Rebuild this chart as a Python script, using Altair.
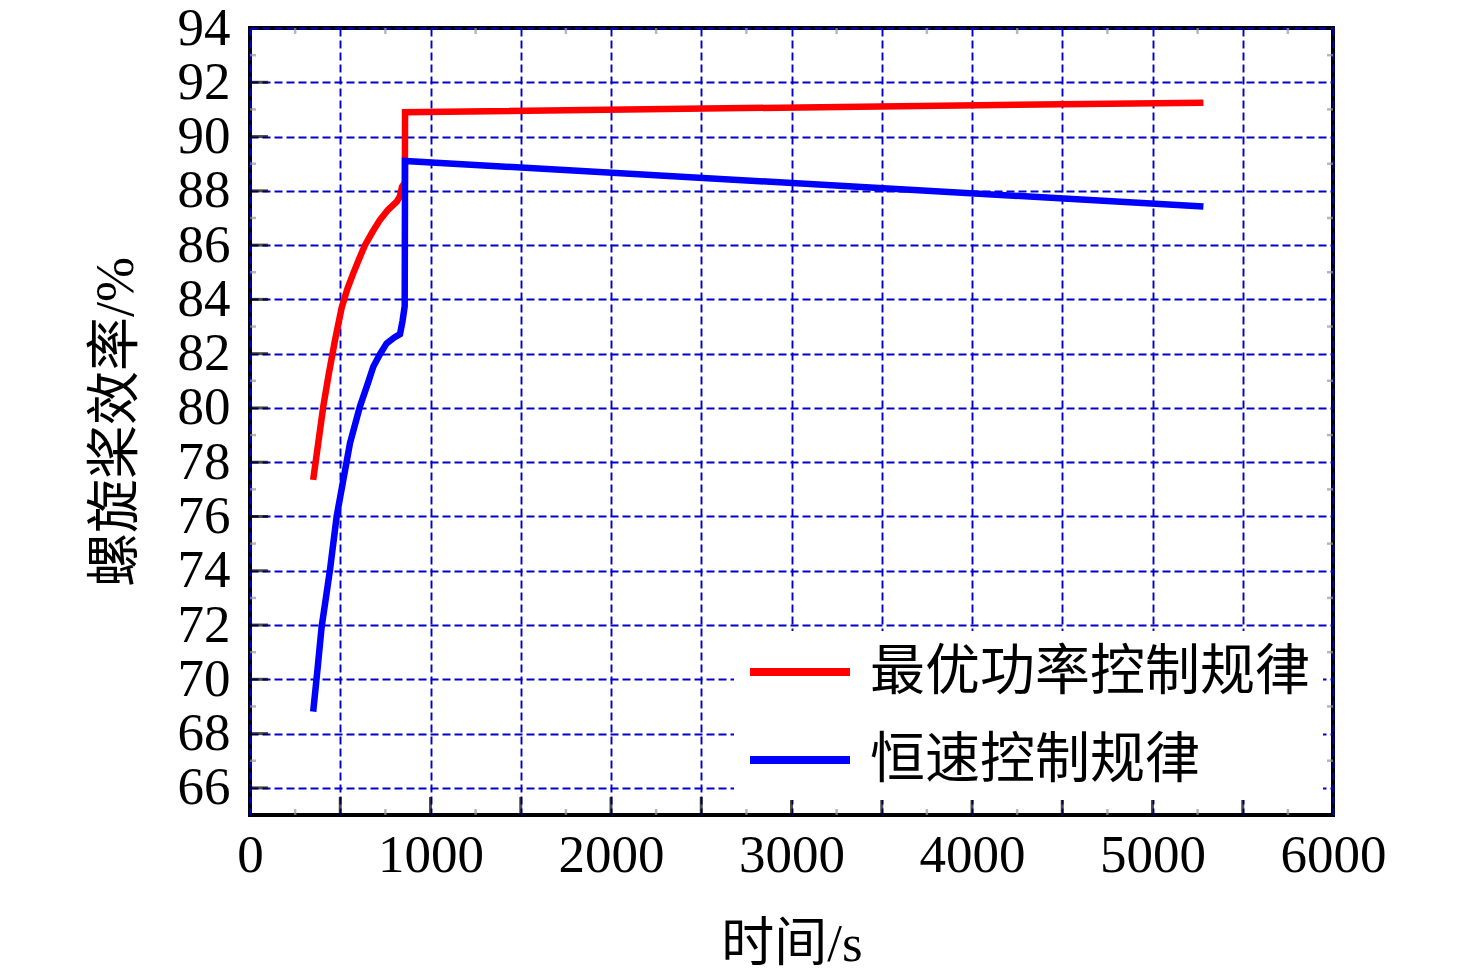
import altair as alt
import pandas as pd

# ---- data ----
red_name = "最优功率控制规律"
blue_name = "恒速控制规律"

red_t = [350, 380, 406, 435, 471, 508, 540, 572, 605, 637, 680, 720, 765, 813, 831, 842, 858, 859, 5282]
red_y = [77.35, 78.8, 80.05, 81.2, 82.5, 83.7, 84.4, 84.96, 85.5, 86.0, 86.5, 86.93, 87.3, 87.6, 87.8, 88.15, 88.3, 90.9, 91.25]

blue_t = [350, 373, 397, 420, 443, 480, 517, 554, 609, 650, 683, 720, 757, 800, 831, 845, 857, 859, 5282]
blue_y = [68.81, 70.3, 71.94, 72.98, 74.03, 76.0, 77.35, 78.7, 80.05, 80.85, 81.52, 81.98, 82.38, 82.6, 82.72, 83.2, 83.75, 89.1, 87.42]

x_grid = [0, 500, 1000, 1500, 2000, 2500, 3000, 3500, 4000, 4500, 5000, 5500, 6000]
y_grid = [66, 68, 70, 72, 74, 76, 78, 80, 82, 84, 86, 88, 90, 92, 94]
x_major_ticks = [500, 1000, 1500, 2000, 2500, 3000, 3500, 4000, 4500, 5000, 5500]
x_minor_ticks = [250, 750, 1250, 1750, 2250, 2750, 3250, 3750, 4250, 4750, 5250, 5750]
y_major_ticks = [66, 68, 70, 72, 74, 76, 78, 80, 82, 84, 86, 88, 90, 92]
y_minor_ticks = [67, 69, 71, 73, 75, 77, 79, 81, 83, 85, 87, 89, 91, 93]

W, H = 1083, 787
FONT = "Liberation Serif, Noto Sans CJK SC"

red_df = pd.DataFrame({"t": red_t, "y": red_y, "s": red_name, "i": range(len(red_t))})
blue_df = pd.DataFrame({"t": blue_t, "y": blue_y, "s": blue_name, "i": range(len(blue_t))})

xscale = alt.Scale(domain=[0, 6000], nice=False, zero=False)
yscale = alt.Scale(domain=[65, 94], nice=False, zero=False)
cscale = alt.Scale(domain=[red_name, blue_name], range=["#FF0000", "#0000FF"])

xaxis = alt.Axis(
    values=x_grid, title="时间/s", grid=True, ticks=False, tickSize=0, domain=False,
    labelExpr="datum.value % 1000 == 0 ? datum.label : ''",
    format="d", labelFlush=False, labelOverlap=False,
    labelFont=FONT, labelFontSize=53, labelColor="black", labelPadding=14,
    titleFont=FONT, titleFontSize=53, titleFontWeight="normal", titleColor="black", titlePadding=36,
    gridColor="#0000CC", gridDash=[8, 4], gridWidth=1.9,
)
yaxis = alt.Axis(
    values=y_grid, title="螺旋桨效率/%", grid=True, ticks=False, tickSize=0, domain=False,
    format="d", labelFlush=False, labelOverlap=False,
    labelFont=FONT, labelFontSize=53, labelColor="black", labelPadding=20,
    titleFont=FONT, titleFontSize=54, titleFontWeight="normal", titleColor="black", titlePadding=34,
    gridColor="#0000CC", gridDash=[8, 4], gridWidth=1.9,
)

legend = alt.Legend(
    title=None, orient="none", legendX=484, legendY=603,
    fillColor="white", padding=12, rowPadding=31,
    symbolType="M-1,0H3", symbolSize=2500, symbolStrokeWidth=8,
    labelFont=FONT, labelFontSize=55, labelColor="black", labelOffset=66,
    labelLimit=0,
)

red_line = alt.Chart(red_df).mark_line(strokeWidth=6.5, strokeCap="butt", strokeJoin="miter").encode(
    x=alt.X("t:Q", scale=xscale, axis=xaxis),
    y=alt.Y("y:Q", scale=yscale, axis=yaxis),
    color=alt.Color("s:N", scale=cscale, legend=legend),
    order="i:Q",
)
blue_line = alt.Chart(blue_df).mark_line(strokeWidth=6.5, strokeCap="butt", strokeJoin="miter").encode(
    x=alt.X("t:Q", scale=xscale),
    y=alt.Y("y:Q", scale=yscale),
    color=alt.Color("s:N", scale=cscale, legend=legend),
    order="i:Q",
)

xmaj = alt.Chart(pd.DataFrame({"t": x_major_ticks})).mark_tick(
    orient="vertical", color="black", thickness=3, size=18).encode(
    x=alt.X("t:Q", scale=xscale), y=alt.value(H - 9))
xmin_b = alt.Chart(pd.DataFrame({"t": x_minor_ticks})).mark_tick(
    orient="vertical", color="#999999", thickness=2.5, size=6).encode(
    x=alt.X("t:Q", scale=xscale), y=alt.value(H - 3))
xmin_t = alt.Chart(pd.DataFrame({"t": x_minor_ticks})).mark_tick(
    orient="vertical", color="#999999", thickness=2.5, size=6).encode(
    x=alt.X("t:Q", scale=xscale), y=alt.value(3))
ymaj = alt.Chart(pd.DataFrame({"y": y_major_ticks})).mark_tick(
    orient="horizontal", color="black", thickness=3, size=18).encode(
    y=alt.Y("y:Q", scale=yscale), x=alt.value(9))
ymin_l = alt.Chart(pd.DataFrame({"y": y_minor_ticks})).mark_tick(
    orient="horizontal", color="#999999", thickness=2.5, size=6).encode(
    y=alt.Y("y:Q", scale=yscale), x=alt.value(3))
ymin_r = alt.Chart(pd.DataFrame({"y": y_minor_ticks})).mark_tick(
    orient="horizontal", color="#999999", thickness=2.5, size=6).encode(
    y=alt.Y("y:Q", scale=yscale), x=alt.value(W - 3))

chart = alt.layer(red_line, blue_line, xmaj, xmin_b, xmin_t, ymaj, ymin_l, ymin_r).properties(
    width=W, height=H,
    autosize=alt.AutoSizeParams(type="none"),
    padding={"left": 242, "top": 20, "right": 110, "bottom": 165},
    background="white",
).configure_view(
    stroke="black", strokeWidth=4,
)

chart.save("out.html", embed_options={"renderer": "svg", "actions": False})
